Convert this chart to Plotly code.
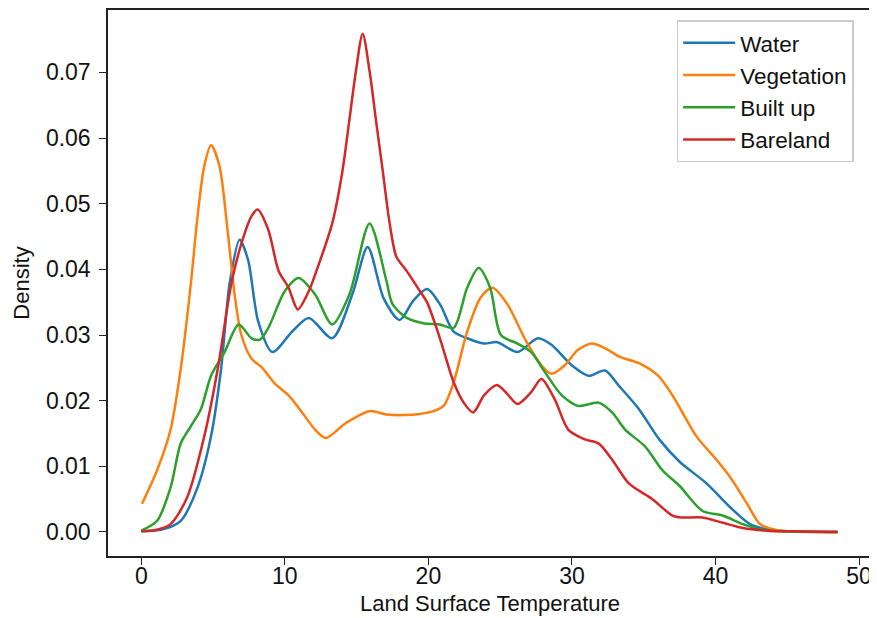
import plotly.graph_objects as go

# ---- data ----
water_x = [0, 1.5, 2.75, 3.92, 4.86, 5.56, 6.15, 6.85, 7.44, 8.15, 9.13, 10.5, 11.67, 13.3, 14.7, 15.77,
           16.9, 18.0, 18.94, 19.9, 20.8, 21.76, 22.7, 23.87, 24.8, 26.2, 27.63, 28.57, 29.98, 31.15,
           32.3, 33.26, 34.67, 36.08, 37.5, 39.37, 41.0, 42.4, 43.6, 45.0, 48.5]
water_y = [0.0001, 0.0004, 0.0017, 0.0068, 0.0146, 0.0249, 0.0378, 0.0445, 0.0414, 0.032, 0.0274, 0.0305,
           0.0326, 0.0295, 0.0362, 0.0434, 0.0355, 0.0323, 0.0352, 0.037, 0.0347, 0.0305, 0.0295, 0.0287,
           0.0289, 0.0274, 0.0295, 0.0285, 0.0254, 0.0238, 0.0246, 0.0223, 0.0187, 0.0141, 0.0107,
           0.0074, 0.0038, 0.0012, 0.0004, 0.0001, 0.0]

veg_x = [0.05, 1.1, 2.04, 2.75, 3.45, 3.92, 4.39, 4.86, 5.44, 6.03, 6.5, 6.97, 7.68, 8.38, 9.3, 10.26,
         11.2, 12.1, 12.84, 14.25, 15.9, 17.07, 18.24, 19.5, 20.35, 21.06, 21.76, 22.7, 23.64, 24.46,
         25.5, 26.7, 27.87, 28.57, 29.5, 30.4, 31.39, 32.3, 33.3, 34.67, 36.0, 37.0, 38.66, 40.07,
         41.0, 42.2, 43.1, 44.06, 45.0, 48.5]
veg_y = [0.0043, 0.0094, 0.0156, 0.0249, 0.0378, 0.0481, 0.0558, 0.0589, 0.0558, 0.0455, 0.0362, 0.030,
         0.0264, 0.0251, 0.0226, 0.0208, 0.0182, 0.0156, 0.0143, 0.0166, 0.0184, 0.0179, 0.0178, 0.018,
         0.0184, 0.0192, 0.0228, 0.0305, 0.0357, 0.0372, 0.0347, 0.0295, 0.0254, 0.0241, 0.0254,
         0.0277, 0.0287, 0.028, 0.0267, 0.0257, 0.0238, 0.0208, 0.0146, 0.011, 0.0084, 0.0043, 0.0012,
         0.0004, 0.0001, 0.0]

built_x = [0, 1.1, 2.04, 2.75, 3.45, 4.15, 4.86, 5.8, 6.78, 7.68, 8.26, 8.85, 10.0, 10.96, 12.1, 13.3,
           14.5, 15.9, 17.07, 17.5, 18.5, 19.65, 20.8, 21.76, 22.7, 23.5, 24.3, 25.05, 26.2, 27.16,
           28.1, 29.3, 30.45, 31.85, 32.8, 33.7, 35.1, 36.3, 37.5, 39.1, 40.5, 41.9, 43.1, 44.5, 48.5]
built_y = [0.0002, 0.0017, 0.0068, 0.0135, 0.0161, 0.0187, 0.0238, 0.0274, 0.0316, 0.0295, 0.0293,
           0.0311, 0.0367, 0.0387, 0.0362, 0.0316, 0.0362, 0.047, 0.0383, 0.0347, 0.0326, 0.0318,
           0.0316, 0.0311, 0.0372, 0.0402, 0.0372, 0.030, 0.0287, 0.0274, 0.0244, 0.0208, 0.0192,
           0.0197, 0.0182, 0.0156, 0.013, 0.0094, 0.007, 0.0032, 0.0025, 0.0012, 0.0004, 0.0001, 0.0]

bare_x = [0, 1.0, 2.04, 3.2, 4.39, 5.33, 6.27, 6.97, 7.68, 8.1, 8.85, 9.56, 10.26, 10.9, 11.67, 12.37,
          13.3, 14.0, 14.48, 14.95, 15.42, 15.9, 16.36, 16.83, 17.3, 17.77, 18.47, 19.4, 19.9, 20.8,
          21.76, 22.46, 23.12, 23.87, 24.77, 25.5, 26.2, 27.16, 27.87, 28.8, 29.74, 30.9, 31.85,
          32.8, 33.96, 35.6, 37.0, 37.7, 39.1, 40.5, 41.9, 43.6, 45.0, 48.5]
bare_y = [0.0001, 0.0003, 0.0012, 0.0053, 0.0146, 0.0249, 0.0378, 0.0439, 0.0481, 0.0491, 0.046,
          0.0398, 0.0372, 0.0339, 0.0367, 0.0408, 0.047, 0.0548, 0.0625, 0.0702, 0.0759, 0.0702,
          0.0625, 0.0548, 0.047, 0.0419, 0.0398, 0.0367, 0.0350, 0.0295, 0.0228, 0.0197, 0.0182,
          0.0208, 0.0224, 0.021, 0.0195, 0.0213, 0.0233, 0.0202, 0.0156, 0.0141, 0.0135, 0.011, 0.0074,
          0.005, 0.0025, 0.0022, 0.0022, 0.0014, 0.0006, 0.0002, 0.0001, 0.0]

series_names = ["Water", "Vegetation", "Built up", "Bareland"]
series_colors = ["#1f77b4", "#ff7f0e", "#2ca02c", "#d62728"]
x_ticks = [0, 10, 20, 30, 40, 50]
y_ticks = [0.00, 0.01, 0.02, 0.03, 0.04, 0.05, 0.06, 0.07]

FONT = "Liberation Sans, Arial, sans-serif"

fig = go.Figure()
for name, color, xs, ys in zip(series_names, series_colors,
                               [water_x, veg_x, built_x, bare_x],
                               [water_y, veg_y, built_y, bare_y]):
    fig.add_trace(go.Scatter(x=xs, y=ys, mode="lines", name=name,
                             line=dict(color=color, width=2.5, shape="spline", smoothing=0.8)))

axis_common = dict(showline=True, linecolor="#222", linewidth=1.5, mirror=True,
                   ticks="outside", ticklen=7, tickwidth=1.3, tickcolor="#222",
                   showgrid=False, zeroline=False,
                   tickfont=dict(family=FONT, size=23, color="#111"))

fig.update_xaxes(range=[-2.32, 50.9], tickvals=x_ticks, ticktext=[str(v) for v in x_ticks],
                 ticklabelstandoff=-8,
                 title=dict(text="Land Surface Temperature", font=dict(family=FONT, size=22, color="#111"),
                            standoff=7),
                 **axis_common)
fig.update_yaxes(range=[-0.00366, 0.0795], tickvals=y_ticks, ticktext=[f"{v:.2f}" for v in y_ticks],
                 ticklabelstandoff=4,
                 title=dict(text="Density", font=dict(family=FONT, size=22, color="#111"), standoff=10),
                 **axis_common)

# page body has an 8px margin, so the figure is shrunk by 8px and margins shifted
fig.update_layout(
    width=869, height=610,
    margin=dict(l=100, r=5, t=2, b=62, autoexpand=False),
    plot_bgcolor="white", paper_bgcolor="white",
    font=dict(family=FONT, size=22, color="#111"),
    legend=dict(x=0.976, y=0.9814, xanchor="right", yanchor="top",
                bgcolor="white", bordercolor="#cccccc", borderwidth=1.5,
                font=dict(family=FONT, size=22.5, color="#111"),
                itemwidth=52, tracegroupgap=0),
    showlegend=True,
)

fig.write_html("out.html")
